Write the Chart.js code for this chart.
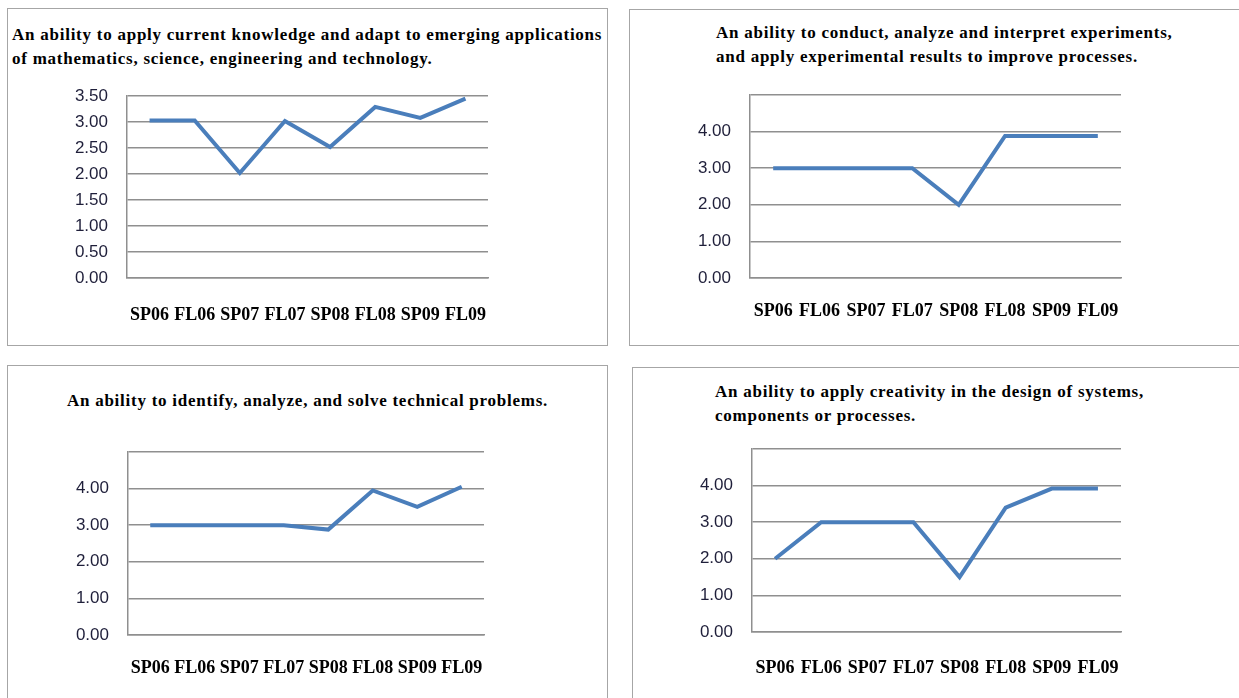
<!DOCTYPE html>
<html>
<head>
<meta charset="utf-8">
<script src="https://cdn.jsdelivr.net/npm/chart.js@4.4.1/dist/chart.umd.min.js"></script>
<style>
  body { margin: 0; background: #fff; width: 1239px; height: 698px; overflow: hidden; position: relative; }
  .box { position: absolute; border: 1px solid #a6a6a6; box-sizing: border-box; }
  .title { position: absolute; font-family: "Liberation Serif", "Times New Roman", serif; font-weight: bold;
           font-size: 17px; letter-spacing: 0.75px; line-height: 24px; color: #000; white-space: nowrap; }
  canvas { position: absolute; }
</style>
</head>
<body>
<div class="box" style="left:7px;top:8px;width:601px;height:338px;"></div>
<div class="box" style="left:629px;top:9px;width:620px;height:337px;"></div>
<div class="box" style="left:7px;top:365px;width:601px;height:350px;"></div>
<div class="box" style="left:632px;top:367px;width:620px;height:350px;"></div>

<div class="title" style="left:12px;top:23px;">An ability to apply current knowledge and adapt to emerging applications<br>of mathematics, science, engineering and technology.</div>
<div class="title" style="left:716px;top:21px;">An ability to conduct, analyze and interpret experiments,<br>and apply experimental results to improve processes.</div>
<div class="title" style="left:8px;top:389px;width:599px;text-align:center;">An ability to identify, analyze, and solve technical problems.</div>
<div class="title" style="left:715px;top:380px;">An ability to apply creativity in the design of systems,<br>components or processes.</div>

<canvas id="c1" width="599" height="337" style="left:8px;top:8px;"></canvas>
<canvas id="c2" width="609" height="335" style="left:630px;top:10px;"></canvas>
<canvas id="c3" width="599" height="333" style="left:8px;top:365px;"></canvas>
<canvas id="c4" width="607" height="330" style="left:632px;top:368px;"></canvas>

<script>
// semesters on the x axis
const semesters = ['SP06', 'FL06', 'SP07', 'FL07', 'SP08', 'FL08', 'SP09', 'FL09'];

// average scores per outcome
const knowledgeScores = [3.03, 3.03, 2.02, 3.02, 2.52, 3.29, 3.08, 3.45];
const experimentScores = [3.00, 3.00, 3.00, 3.00, 2.00, 3.88, 3.88, 3.88];
const problemScores = [3.00, 3.00, 3.00, 3.00, 2.88, 3.95, 3.50, 4.05];
const creativityScores = [2.00, 3.00, 3.00, 3.00, 1.50, 3.40, 3.92, 3.92];

const gridColor = '#8f8f8f';
const lineColor = '#4a7ebb';

function makeChart(id, values, yMax, step, hideTop, pad, xHeight, xPad) {
    const ctx = document.getElementById(id).getContext('2d');
    return new Chart(ctx, {
        type: 'line',
        data: {
            labels: semesters,
            datasets: [{
                data: values,
                borderColor: lineColor,
                borderWidth: 4,
                pointRadius: 0,
                tension: 0,
                fill: false
            }]
        },
        options: {
            responsive: false,
            animation: false,
            layout: { padding: pad },
            plugins: { legend: { display: false }, tooltip: { enabled: false } },
            scales: {
                x: {
                    offset: true,
                    grid: { display: false },
                    border: { display: true, color: gridColor, width: 1.5 },
                    ticks: {
                        color: '#000',
                        padding: xPad,
                        maxRotation: 0,
                        autoSkip: false,
                        font: { family: '"Liberation Serif", "Times New Roman", serif', weight: 'bold', size: 18 }
                    },
                    afterFit: function (scale) { scale.height = xHeight; }
                },
                y: {
                    min: 0,
                    max: yMax,
                    grid: { color: gridColor, lineWidth: 1.5, drawTicks: false },
                    border: { display: true, color: gridColor, width: 1.5 },
                    ticks: {
                        stepSize: step,
                        color: '#1f1f3a',
                        padding: 19,
                        font: { family: '"Liberation Sans", Arial, sans-serif', size: 17 },
                        callback: function (v) {
                            if (hideTop && v === yMax) return '';
                            return Number(v).toFixed(2);
                        }
                    },
                    afterFit: function (scale) { scale.width = 60; }
                }
            }
        }
    });
}

makeChart('c1', knowledgeScores, 3.5, 0.5, false, { left: 59, right: 119, top: 88, bottom: 0 }, 67, 19);
makeChart('c2', experimentScores, 5, 1, true, { left: 60, right: 118, top: 85, bottom: 0 }, 67, 15);
makeChart('c3', problemScores, 5, 1, true, { left: 60, right: 123, top: 87, bottom: 0 }, 63, 15);
makeChart('c4', creativityScores, 5, 1, true, { left: 60, right: 118, top: 81, bottom: 0 }, 66, 18);
</script>
</body>
</html>
